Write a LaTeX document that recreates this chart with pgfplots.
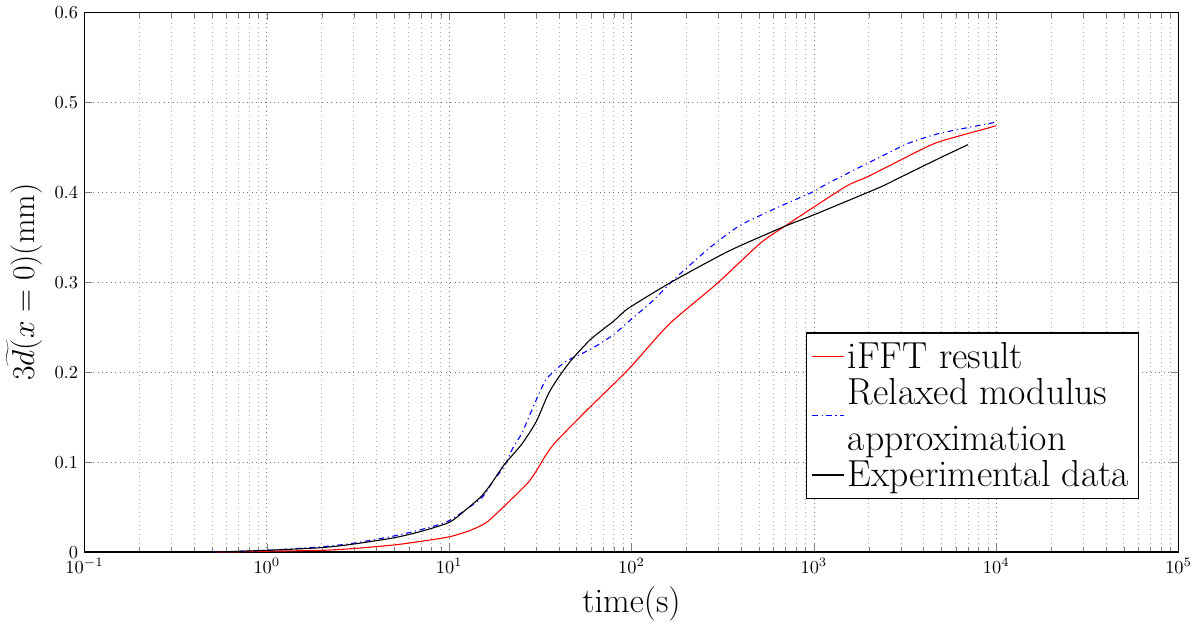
\documentclass[border=0pt]{standalone}
\usepackage{pgfplots}
\pgfplotsset{compat=1.18}
\begin{document}
\begin{tikzpicture}
\begin{axis}[
  width=596pt, height=294pt, scale only axis,
  xmode=log, xmin=0.1, xmax=1e5,
  ymin=0, ymax=0.6,
  ytick={0,0.1,0.2,0.3,0.4,0.5,0.6},
  yticklabels={0,0.1,0.2,0.3,0.4,0.5,0.6},
  xmajorgrids, xminorgrids, ymajorgrids,
  major grid style={dotted, black!55},
  minor grid style={dotted, black!35},
  tick align=inside,
  xlabel={\fontsize{18.8}{22}\selectfont time(s)},
  ylabel={\fontsize{18.8}{22}\selectfont $3\widetilde{d\,\,}\!\!(x=0)(\mathrm{mm})$},
  legend style={at={(0.9638,0.0977)}, anchor=south east, font=\fontsize{20.5}{25}\selectfont, align=left, draw=black, line width=0.8pt, inner sep=3pt},
  legend cell align=left,
  axis line style={line width=0.8pt},
]
\addplot[color=red, line width=0.6pt, smooth, tension=0.4] coordinates {
(0.5,0) (1,0.001) (2,0.002) (3,0.004) (5,0.008) (7,0.012) (10,0.017) (13,0.024) (16,0.033)
(19.8,0.050) (25,0.070) (27.3,0.078) (30,0.090) (33,0.104) (35,0.112) (39,0.124)
(57,0.158) (96,0.203) (160,0.253) (292,0.298) (506,0.343) (689,0.362) (1483,0.406)
(2000,0.418) (3926,0.448) (5000,0.457) (10000,0.474)};
\addlegendentry{iFFT result}
\addplot[color=blue, line width=0.6pt, dashdotted, smooth, tension=0.4] coordinates {
(0.5,0) (1,0.002) (2,0.006) (3,0.010) (5,0.018) (7,0.025) (10,0.035) (15,0.060)
(17.4,0.079) (20,0.095) (22.5,0.117) (25,0.132) (30,0.169) (34,0.192) (40,0.206)
(44.5,0.213) (55,0.222) (65,0.230) (80,0.242) (96,0.256) (130,0.279) (175,0.305)
(267,0.338) (392,0.363) (630,0.383) (1000,0.401) (1194,0.410) (2812,0.448)
(3450,0.456) (5000,0.466) (10000,0.478)};
\addlegendentry{Relaxed modulus\\approximation}
\addplot[color=black, line width=0.6pt, smooth, tension=0.4] coordinates {
(0.5,0) (1,0.002) (2,0.005) (3,0.009) (5,0.016) (7,0.023) (10,0.033) (12,0.045)
(15,0.062) (17,0.076) (20,0.097) (25,0.120) (30,0.145) (35,0.176) (40,0.195)
(47,0.214) (60,0.237) (80,0.257) (96,0.271) (168,0.301) (344,0.335) (689,0.362)
(1000,0.375) (2265,0.405) (3000,0.417) (5000,0.439) (7000,0.453)};
\addlegendentry{Experimental data}
\end{axis}
\end{tikzpicture}
\end{document}
